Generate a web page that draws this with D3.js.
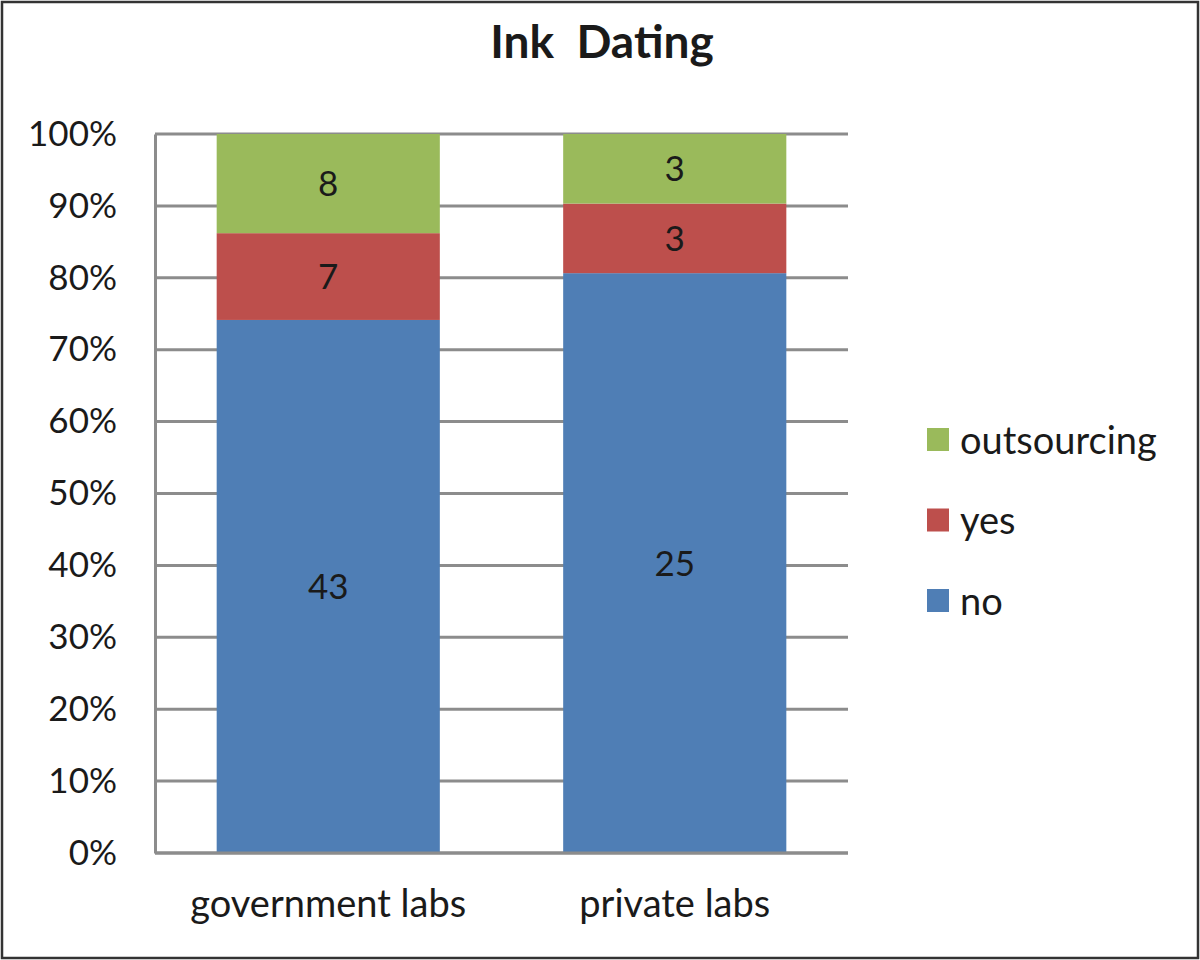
<!DOCTYPE html>
<html>
<head>
<meta charset="utf-8">
<script src="https://cdn.jsdelivr.net/npm/d3@7"></script>
<style>
  body { margin: 0; background: #fff; }
  svg text { font-family: Lato, "Open Sans", sans-serif; fill: #1a1a1a; }
</style>
</head>
<body>
<div id="chart"></div>
<script>
var categories = ["government labs", "private labs"];
var seriesNames = ["no", "yes", "outsourcing"];
var noValues = [43, 25];
var yesValues = [7, 3];
var outsourcingValues = [8, 3];
var tickValues = [0, 0.1, 0.2, 0.3, 0.4, 0.5, 0.6, 0.7, 0.8, 0.9, 1];
var colors = ["#4f7eb5", "#bd4f4c", "#9aba5b"];

var chart = {
    w: 1200,
    h: 960,
    margin: { top: 134, left: 155, right: 352, bottom: 107 }
};

var svg = d3.select("#chart").append("svg")
    .attr("width", chart.w)
    .attr("height", chart.h);

// frame
svg.append("rect")
    .attr("x", 2).attr("y", 2)
    .attr("width", chart.w - 4).attr("height", chart.h - 4)
    .attr("fill", "#fff")
    .attr("stroke", "#333")
    .attr("stroke-width", 2.5);

var rows = categories.map(function (c, i) {
    return { cat: c, no: noValues[i], yes: yesValues[i], outsourcing: outsourcingValues[i] };
});

var x = d3.scaleBand()
    .domain(categories)
    .range([chart.margin.left, chart.w - chart.margin.right])
    .paddingInner(0.356)
    .paddingOuter(0.178);

var y = d3.scaleLinear()
    .domain([0, 1])
    .range([chart.h - chart.margin.bottom, chart.margin.top]);

// gridlines
svg.append("g")
    .selectAll("line")
    .data(tickValues)
    .enter().append("line")
    .attr("x1", chart.margin.left)
    .attr("x2", chart.w - chart.margin.right)
    .attr("y1", function (d) { return y(d); })
    .attr("y2", function (d) { return y(d); })
    .attr("stroke", "#8c8c8c")
    .attr("stroke-width", 3);

// y axis
var yAxis = svg.append("g")
    .attr("transform", "translate(" + chart.margin.left + ",0)")
    .call(d3.axisLeft(y).tickValues(tickValues).tickFormat(d3.format(".0%")).tickSize(0).tickPadding(38));
yAxis.select(".domain").attr("stroke", "#8c8c8c").attr("stroke-width", 3);
yAxis.selectAll("text")
    .attr("font-size", 35)
    .attr("font-family", "Lato, sans-serif")
    .attr("fill", "#1a1a1a");

var stack = d3.stack()
    .keys(seriesNames)
    .offset(d3.stackOffsetExpand);
var layers = stack(rows);

var layerG = svg.append("g")
    .selectAll("g")
    .data(layers)
    .enter().append("g")
    .attr("fill", function (d, i) { return colors[i]; });

layerG.selectAll("rect")
    .data(function (d) { return d; })
    .enter().append("rect")
    .attr("x", function (d) { return x(d.data.cat); })
    .attr("width", x.bandwidth())
    .attr("y", function (d) { return y(d[1]); })
    .attr("height", function (d) { return y(d[0]) - y(d[1]); });

layerG.selectAll("text")
    .data(function (d) { return d.map(function (p) { p.key = d.key; return p; }); })
    .enter().append("text")
    .attr("x", function (d) { return x(d.data.cat) + x.bandwidth() / 2; })
    .attr("y", function (d) { return (y(d[0]) + y(d[1])) / 2; })
    .attr("dy", "0.36em")
    .attr("text-anchor", "middle")
    .attr("font-size", 35)
    .text(function (d) { return d.data[d.key]; });

// bottom axis line
svg.append("line")
    .attr("x1", chart.margin.left)
    .attr("x2", chart.w - chart.margin.right)
    .attr("y1", y(0)).attr("y2", y(0))
    .attr("stroke", "#8c8c8c")
    .attr("stroke-width", 3);

// category labels
svg.append("g")
    .selectAll("text")
    .data(categories)
    .enter().append("text")
    .attr("x", function (d) { return x(d) + x.bandwidth() / 2; })
    .attr("y", 917)
    .attr("text-anchor", "middle")
    .attr("font-size", 38)
    .text(function (d) { return d; });

// title
svg.append("text")
    .attr("x", 602)
    .attr("y", 58)
    .attr("text-anchor", "middle")
    .attr("font-size", 46)
    .attr("font-weight", "bold")
    .style("white-space", "pre")
    .text("Ink  Dating");

// legend
var legendOrder = ["outsourcing", "yes", "no"];
var legend = svg.append("g")
    .selectAll("g")
    .data(legendOrder)
    .enter().append("g")
    .attr("transform", function (d, i) { return "translate(927," + (428 + i * 80.5) + ")"; });

legend.append("rect")
    .attr("width", 22)
    .attr("height", 23)
    .attr("fill", function (d) { return colors[seriesNames.indexOf(d)]; });

legend.append("text")
    .attr("x", 33)
    .attr("y", 12)
    .attr("dy", "0.36em")
    .attr("font-size", 38)
    .text(function (d) { return d; });
</script>
</body>
</html>
